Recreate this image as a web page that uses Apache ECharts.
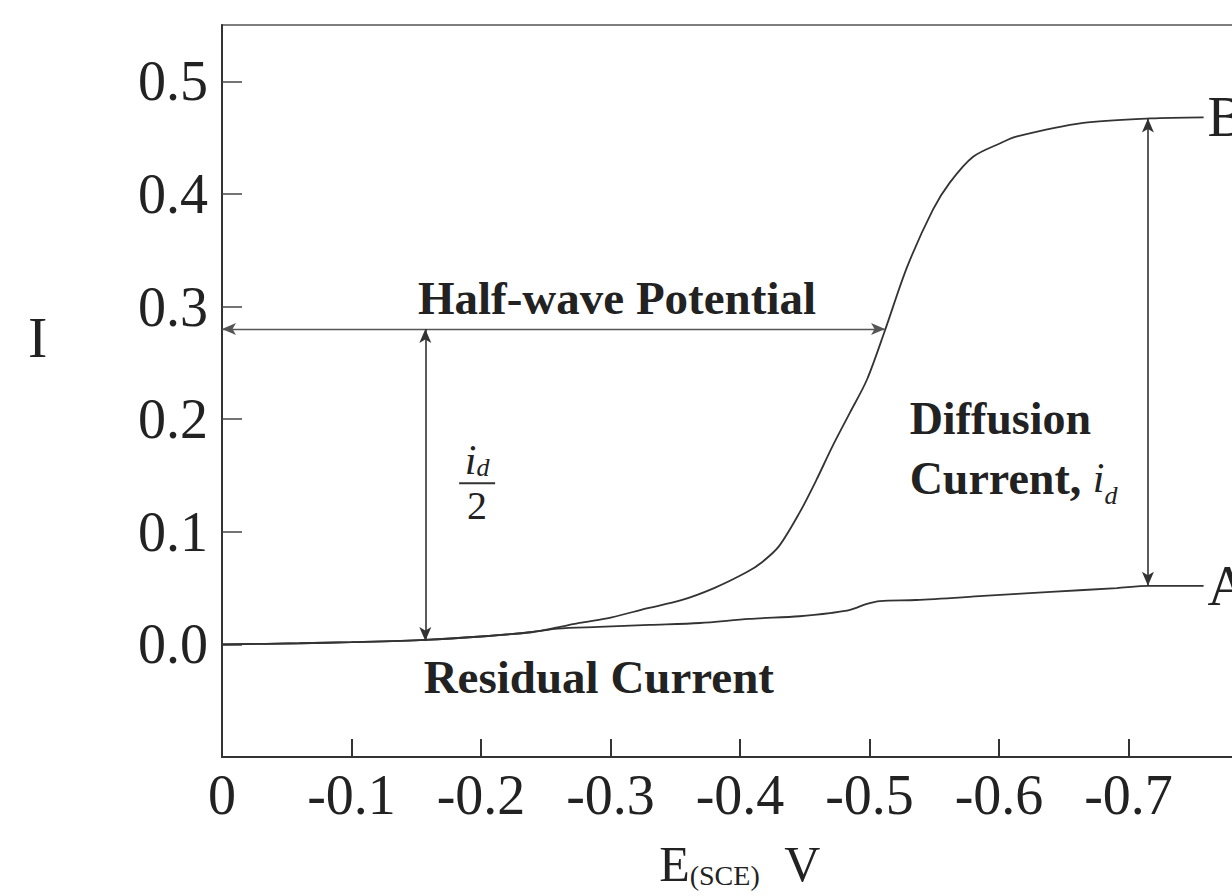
<!DOCTYPE html>
<html>
<head>
<meta charset="utf-8">
<script src="https://cdn.jsdelivr.net/npm/echarts@6/dist/echarts.min.js"></script>
<style>
  html, body { margin: 0; padding: 0; background: #ffffff; }
  #chart { width: 1232px; height: 895px; }
</style>
</head>
<body>
<div id="chart"></div>
<script>
// Polarogram: current I against electrode potential E (vs. SCE)

// Reduction wave (rises to the limiting current, ends at B)
const potentialWave = [0, -0.06, -0.10, -0.157, -0.20, -0.24, -0.259, -0.276, -0.301, -0.328, -0.354,
  -0.380, -0.405, -0.417, -0.430, -0.446, -0.459, -0.471, -0.485, -0.498, -0.512, -0.529,
  -0.549, -0.562, -0.580, -0.601, -0.614, -0.665, -0.717, -0.758];
const currentWave = [0, 0.001, 0.002, 0.004, 0.007, 0.011, 0.015, 0.019, 0.024, 0.032, 0.039,
  0.050, 0.064, 0.073, 0.087, 0.117, 0.146, 0.175, 0.206, 0.235, 0.279, 0.335,
  0.386, 0.410, 0.433, 0.445, 0.451, 0.463, 0.467, 0.468];

// Residual current (supporting electrolyte only, ends at A)
const potentialResidual = [0, -0.06, -0.10, -0.157, -0.20, -0.24, -0.259, -0.291, -0.330, -0.369,
  -0.407, -0.446, -0.471, -0.485, -0.498, -0.508, -0.536, -0.588, -0.640, -0.691, -0.715, -0.758];
const currentResidual = [0, 0.001, 0.002, 0.004, 0.007, 0.011, 0.014, 0.0155, 0.0173, 0.019,
  0.0226, 0.025, 0.028, 0.0306, 0.036, 0.0385, 0.0394, 0.043, 0.0466, 0.050, 0.052, 0.052];

// Axis ticks and their labels
const potentialTicks = [0, -0.1, -0.2, -0.3, -0.4, -0.5, -0.6, -0.7];
const potentialTickLabels = ['0', '-0.1', '-0.2', '-0.3', '-0.4', '-0.5', '-0.6', '-0.7'];
const currentTicks = [0, 0.1, 0.2, 0.3, 0.4, 0.5];
const currentTickLabels = ['0.0', '0.1', '0.2', '0.3', '0.4', '0.5'];

// Construction arrows
const halfWaveLevel = 0.28;            // current at the half-wave potential
const halfWaveSpan = [0, -0.512];      // from the current axis to the wave
const halfCurrentPotential = -0.157;   // where i_d/2 is measured
const halfCurrentSpan = [0.28, 0.003];
const diffusionPotential = -0.715;     // where i_d is measured
const diffusionSpan = [0.467, 0.052];

const SERIF = "'Liberation Serif', 'Times New Roman', serif";
const INK = '#222';

function labelFor(ticks, labels) {
  return function (v) {
    const i = ticks.findIndex(t => Math.abs(t - v) < 1e-9);
    return i >= 0 ? labels[i] : '';
  };
}

const pairs = (xs, ys) => xs.map((x, i) => [x, ys[i]]);
const lastOf = (xs, ys) => [xs[xs.length - 1], ys[ys.length - 1]];

const textPoint = (coord, label) => ({
  coord: coord,
  symbol: 'circle',
  symbolSize: 0,
  itemStyle: { color: 'rgba(0,0,0,0)' },
  label: Object.assign({ show: true, position: 'inside', color: INK, fontFamily: SERIF }, label)
});

const chart = echarts.init(document.getElementById('chart'), null, { renderer: 'svg' });

chart.setOption({
  animation: false,
  backgroundColor: '#ffffff',
  grid: {
    left: 222, top: 25, width: 1036, height: 732,
    containLabel: false, outerBoundsMode: 'none',
    show: true, borderColor: '#555', borderWidth: 1.5, backgroundColor: 'transparent'
  },
  xAxis: {
    type: 'value', inverse: true, min: -0.8, max: 0,
    name: '{e|E}{s|(SCE)}{e|  V}',
    nameLocation: 'middle', nameGap: 82,
    nameTextStyle: {
      rich: {
        e: { fontFamily: SERIF, fontSize: 50, color: INK, lineHeight: 50 },
        s: { fontFamily: SERIF, fontSize: 28, color: INK, lineHeight: 34, verticalAlign: 'bottom' }
      }
    },
    axisLine: { show: true, onZero: false, lineStyle: { color: '#333', width: 2 } },
    axisTick: { show: true, inside: true, length: 18, customValues: potentialTicks,
      lineStyle: { color: '#333', width: 2 } },
    axisLabel: { show: true, customValues: potentialTicks, margin: 10,
      formatter: labelFor(potentialTicks, potentialTickLabels),
      fontFamily: SERIF, fontSize: 56, color: INK },
    splitLine: { show: false }
  },
  yAxis: {
    type: 'value', min: -0.1, max: 0.55,
    axisLine: { show: true, onZero: false, lineStyle: { color: '#333', width: 2 } },
    axisTick: { show: true, inside: true, length: 20, customValues: currentTicks,
      lineStyle: { color: '#444', width: 1.5 } },
    axisLabel: { show: true, customValues: currentTicks, margin: 14,
      formatter: labelFor(currentTicks, currentTickLabels),
      fontFamily: SERIF, fontSize: 56, color: INK },
    splitLine: { show: false }
  },
  graphic: [{
    type: 'text', left: 28, top: 308,
    style: { text: 'I', font: '58px ' + SERIF, fill: INK }
  }],
  series: [
    {
      name: 'Residual Current',
      type: 'line',
      data: pairs(potentialResidual, currentResidual),
      showSymbol: false, smooth: 0.3,
      lineStyle: { color: '#333', width: 1.8 },
      markPoint: {
        silent: true,
        data: [
          textPoint(lastOf(potentialResidual, currentResidual),
            { formatter: 'A', position: 'right', distance: 4, fontSize: 56 }),
          textPoint([-0.291, -0.029],
            { formatter: 'Residual Current', fontSize: 47, fontWeight: 'bold' })
        ]
      }
    },
    {
      name: 'Polarographic Wave',
      type: 'line',
      data: pairs(potentialWave, currentWave),
      showSymbol: false, smooth: 0.3,
      lineStyle: { color: '#333', width: 1.8 },
      markLine: {
        silent: true,
        symbol: ['arrow', 'arrow'],
        symbolSize: [9, 14],
        label: { show: false },
        lineStyle: { color: '#333', width: 1.6, type: 'solid' },
        data: [
          [{ coord: [halfWaveSpan[0], halfWaveLevel], lineStyle: { color: '#555', width: 1.4 } },
           { coord: [halfWaveSpan[1], halfWaveLevel] }],
          [{ coord: [halfCurrentPotential, halfCurrentSpan[0]] },
           { coord: [halfCurrentPotential, halfCurrentSpan[1]] }],
          [{ coord: [diffusionPotential, diffusionSpan[0]] },
           { coord: [diffusionPotential, diffusionSpan[1]] }]
        ]
      },
      markPoint: {
        silent: true,
        data: [
          textPoint(lastOf(potentialWave, currentWave),
            { formatter: 'B', position: 'right', distance: 4, fontSize: 56 }),
          textPoint([-0.305, 0.308],
            { formatter: 'Half-wave Potential', fontSize: 47, fontWeight: 'bold' }),
          textPoint([-0.531, 0.174], {
            position: 'right', distance: 0,
            formatter: '{b|Diffusion}\n{b|Current, }{i|i}{d|d}',
            rich: {
              b: { fontFamily: SERIF, fontSize: 46, fontWeight: 'bold', color: INK, lineHeight: 60 },
              i: { fontFamily: SERIF, fontSize: 42, fontStyle: 'italic', color: INK, lineHeight: 60 },
              d: { fontFamily: SERIF, fontSize: 26, fontStyle: 'italic', color: INK, lineHeight: 44,
                   verticalAlign: 'bottom' }
            }
          }),
          textPoint([-0.197, 0.144], {
            formatter: '{i|i}{d|d}\n{bar|}\n{n|2}',
            align: 'center',
            rich: {
              i: { fontFamily: SERIF, fontSize: 42, fontStyle: 'italic', color: INK, lineHeight: 40 },
              d: { fontFamily: SERIF, fontSize: 26, fontStyle: 'italic', color: INK, lineHeight: 30,
                   verticalAlign: 'bottom' },
              bar: { width: 36, height: 2, backgroundColor: '#333', lineHeight: 6 },
              n: { fontFamily: SERIF, fontSize: 40, color: INK, lineHeight: 38 }
            }
          })
        ]
      }
    }
  ]
});
</script>
</body>
</html>
